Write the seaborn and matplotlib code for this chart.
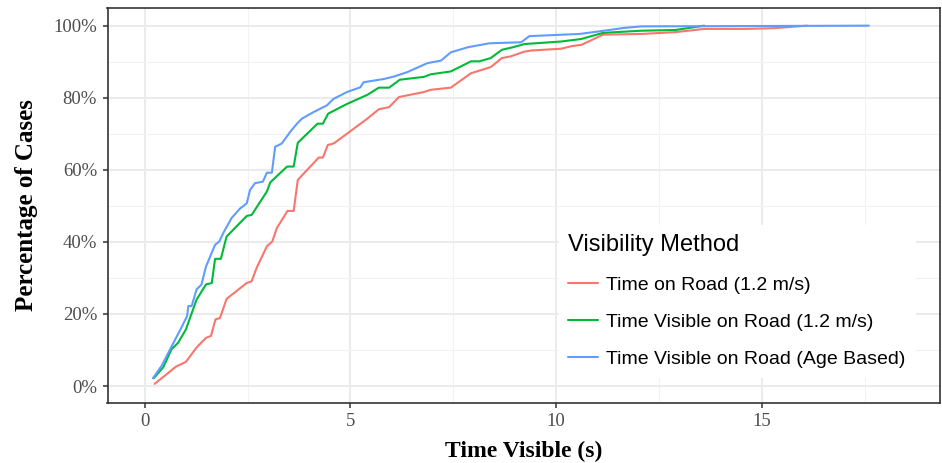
import numpy as np
import pandas as pd
import matplotlib
matplotlib.use("Agg")
import matplotlib.pyplot as plt
import seaborn as sns
from matplotlib.ticker import FuncFormatter, MultipleLocator

# ---- data ----
methods = ["Time on Road (1.2 m/s)",
           "Time Visible on Road (1.2 m/s)",
           "Time Visible on Road (Age Based)"]

road_x = [0.24, 0.76, 1.0, 1.26, 1.49, 1.61, 1.72, 1.83, 1.99, 2.48, 2.60, 2.72, 2.97, 3.10,
          3.21, 3.47, 3.62, 3.72, 4.23, 4.33, 4.45, 4.59, 4.76, 5.41, 5.69, 5.94, 6.18, 6.79,
          6.95, 7.44, 7.93, 8.41, 8.68, 8.9, 9.23, 9.39, 10.12, 10.37, 10.62, 11.14, 12.07,
          12.9, 13.6, 14.6, 15.3, 16.1]
road_y = [0.6, 5.4, 6.7, 10.7, 13.4, 13.9, 18.5, 18.9, 24.2, 28.6, 29.1, 32.8, 38.8, 40.1,
          43.8, 48.6, 48.6, 57.2, 63.4, 63.4, 66.9, 67.3, 68.7, 74.2, 76.8, 77.4, 80.2, 81.6,
          82.2, 82.8, 86.8, 88.5, 91.0, 91.5, 92.8, 93.1, 93.6, 94.3, 94.7, 97.5, 97.7,
          98.2, 99.1, 99.1, 99.3, 100.0]

vis_x = [0.22, 0.45, 0.65, 0.81, 1.0, 1.26, 1.49, 1.63, 1.71, 1.85, 1.99, 2.48, 2.60, 2.97,
         3.05, 3.46, 3.62, 3.72, 4.2, 4.33, 4.46, 4.92, 5.41, 5.69, 5.94, 6.2, 6.79, 6.95,
         7.44, 7.93, 8.13, 8.41, 8.68, 8.98, 9.23, 10.12, 10.61, 11.14, 12.07, 12.9, 13.6]
vis_y = [2.2, 5.2, 10.2, 12.0, 15.7, 24.0, 28.2, 28.6, 35.3, 35.3, 41.5, 47.2, 47.5, 54.0,
         56.5, 60.9, 60.9, 67.5, 72.8, 72.8, 75.6, 78.3, 80.8, 82.8, 82.8, 85.0, 85.8, 86.5,
         87.3, 90.1, 90.1, 91.0, 93.3, 94.1, 94.9, 95.6, 96.3, 98.0, 98.6, 98.8, 100.0]

age_x = [0.2, 0.41, 0.63, 0.85, 1.03, 1.06, 1.14, 1.26, 1.38, 1.49, 1.71, 1.81, 1.93, 2.11,
         2.32, 2.48, 2.56, 2.68, 2.87, 2.97, 3.09, 3.17, 3.33, 3.54, 3.7, 3.82, 4.1, 4.43,
         4.59, 4.92, 5.24, 5.32, 5.81, 6.06, 6.38, 6.87, 7.2, 7.44, 7.85, 8.37, 9.15, 9.35,
         10.57, 11.1, 11.67, 12.07, 17.6]
age_y = [2.2, 5.6, 10.5, 15.3, 19.4, 22.2, 22.2, 26.8, 28.2, 33.2, 39.2, 40.1, 42.9, 46.6,
         49.3, 50.7, 54.4, 56.3, 56.7, 59.2, 59.2, 66.4, 67.3, 70.6, 72.8, 74.2, 76.0, 77.9,
         79.7, 81.6, 82.9, 84.3, 85.2, 85.9, 87.1, 89.6, 90.3, 92.6, 94.0, 95.1, 95.4, 97.1,
         97.7, 98.5, 99.4, 99.8, 100.0]

x_ticks = [0, 5, 10, 15]
y_ticks = [0, 0.2, 0.4, 0.6, 0.8, 1.0]
colors = ["#F8766D", "#00BA38", "#619CFF"]

frames = []
for m, xs, ys in zip(methods, [road_x, vis_x, age_x], [road_y, vis_y, age_y]):
    frames.append(pd.DataFrame({"x": xs, "y": np.array(ys) / 100.0, "method": m}))
df = pd.concat(frames, ignore_index=True)

sns.set_theme(style="white")
plt.rcParams["font.family"] = ["Liberation Serif", "DejaVu Serif"]

fig = plt.figure(figsize=(9.42, 4.63), dpi=100)
ax = fig.add_axes([107.5 / 942, 60 / 463, 832.5 / 942, 395 / 463])

sns.lineplot(data=df, x="x", y="y", hue="method", hue_order=methods,
             palette=colors, estimator=None, sort=False, linewidth=1.5, ax=ax)

ax.set_xlim(-0.905, 19.33)
ax.set_ylim(-0.047, 1.049)
ax.set_xticks(x_ticks)
ax.set_yticks(y_ticks)
ax.xaxis.set_minor_locator(MultipleLocator(2.5))
ax.yaxis.set_minor_locator(MultipleLocator(0.1))
ax.yaxis.set_major_formatter(FuncFormatter(lambda v, p: f"{v*100:.0f}%"))

ax.grid(True, which="major", color="#EBEBEB", linewidth=1.5)
ax.grid(True, which="minor", color="#F2F2F2", linewidth=0.8)
ax.set_axisbelow(True)
for s in ax.spines.values():
    s.set_color("#333333")
    s.set_linewidth(1.2)

ax.tick_params(axis="both", which="major", length=3.5, width=1.1, color="#333333",
               labelsize=13.5, labelcolor="#4D4D4D", pad=4, direction="out",
               bottom=True, left=True)
ax.tick_params(axis="both", which="minor", length=0)

ax.set_xlabel("Time Visible (s)", fontsize=17, fontweight="bold", color="black")
ax.set_ylabel("Percentage of Cases", fontsize=18, fontweight="bold", color="black")
ax.xaxis.set_label_coords(0.5, -0.095)
ax.yaxis.set_label_coords(-0.083, 0.5)

leg = ax.legend(title="Visibility Method", loc="upper left",
                bbox_to_anchor=((549 - 107.5) / 832.5, (403 - 215) / 395),
                frameon=True, fancybox=False, framealpha=1.0, edgecolor="white",
                facecolor="white", prop={"family": "Liberation Sans", "size": 14},
                title_fontproperties={"family": "Liberation Sans", "size": 17},
                handlelength=1.5, handletextpad=0.45, labelspacing=1.0,
                borderpad=0.5, alignment="left")
leg.get_title().set_color("black")
for t in leg.get_texts():
    t.set_color("black")
for line in leg.get_lines():
    line.set_linewidth(1.5)

fig.savefig("out.png", dpi=100)
